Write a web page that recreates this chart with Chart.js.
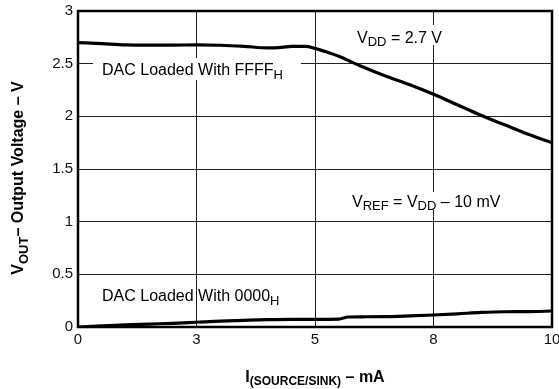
<!DOCTYPE html>
<html><head><meta charset="utf-8">
<script src="https://cdn.jsdelivr.net/npm/chart.js@4/dist/chart.umd.min.js"></script>
<style>html,body{margin:0;padding:0;background:#fff}canvas{display:block}</style>
</head><body>
<canvas id="c" width="559" height="389"></canvas>
<script>
// ---- data ----
const currentFFFF = [0, 0.5, 1, 1.5, 2, 2.5, 3, 3.5, 4, 4.3, 4.5, 4.8, 5, 5.25, 5.5, 6, 6.5, 7, 7.5, 8, 8.5, 9, 9.5, 10];
const voutFFFF    = [2.70, 2.69, 2.678, 2.676, 2.676, 2.678, 2.675, 2.665, 2.65, 2.655, 2.665, 2.665, 2.645, 2.61, 2.57, 2.47, 2.38, 2.30, 2.21, 2.11, 2.01, 1.92, 1.83, 1.75];
const current0000 = [0, 0.5, 1, 1.5, 2, 2.5, 3, 3.5, 4, 4.5, 5, 5.5, 5.7, 6, 6.5, 7, 7.5, 8, 8.5, 9, 9.5, 10];
const vout0000    = [0, 0.01, 0.02, 0.028, 0.035, 0.045, 0.055, 0.063, 0.07, 0.073, 0.073, 0.075, 0.095, 0.097, 0.098, 0.105, 0.114, 0.125, 0.138, 0.145, 0.146, 0.152];
const xTickValues = [0, 2.5, 5, 7.5, 10];
const xTickLabels = ['0', '3', '5', '8', '10'];
const yTickValues = [0, 0.5, 1, 1.5, 2, 2.5, 3];
const yTickLabels = ['0', '0.5', '1', '1.5', '2', '2.5', '3'];

const FONT = '"Liberation Sans", Arial, sans-serif';

function toXY(xs, ys) { return xs.map((x, i) => ({x: x, y: ys[i]})); }

function richWidth(ctx, parts, mainF, subF) {
  let w = 0;
  parts.forEach(p => { ctx.font = p.sub ? subF : mainF; w += ctx.measureText(p.t).width; });
  return w;
}
function drawRich(ctx, parts, x, y, mainF, subF, subDy) {
  ctx.textBaseline = 'alphabetic';
  ctx.textAlign = 'left';
  parts.forEach(p => {
    ctx.font = p.sub ? subF : mainF;
    ctx.fillText(p.t, x, y + (p.sub ? subDy : 0));
    x += ctx.measureText(p.t).width;
  });
}

const deco = {
  id: 'deco',
  beforeDatasetsDraw(chart) {
    const ctx = chart.ctx;
    ctx.save();
    ctx.fillStyle = '#fff';
    // white backgrounds behind labels that hide gridlines
    ctx.fillRect(93, 58, 208, 22);   // DAC Loaded With FFFFH
    ctx.fillRect(354, 25, 92, 20);   // VDD = 2.7 V
    ctx.fillRect(349, 192, 156, 18); // VREF = VDD - 10 mV
    ctx.restore();
  },
  afterDatasetsDraw(chart) {
    const ctx = chart.ctx, a = chart.chartArea;
    ctx.save();
    ctx.strokeStyle = '#000';
    ctx.lineWidth = 2.5;
    ctx.strokeRect(a.left, a.top, a.right - a.left, a.bottom - a.top);
    ctx.restore();
  },
  afterDraw(chart) {
    const ctx = chart.ctx;
    ctx.save();
    ctx.fillStyle = '#000';
    const mF = '16px ' + FONT, sF = '13px ' + FONT;
    drawRich(ctx, [{t: 'DAC Loaded With FFFF'}, {t: 'H', sub: true}], 102, 75, mF, sF, 4);
    drawRich(ctx, [{t: 'V'}, {t: 'DD', sub: true}, {t: ' = 2.7 V'}], 357, 43, mF, sF, 3);
    drawRich(ctx, [{t: 'V'}, {t: 'REF', sub: true}, {t: ' = V'}, {t: 'DD', sub: true}, {t: ' \u2013 10 mV'}], 352, 207, mF, sF, 3);
    drawRich(ctx, [{t: 'DAC Loaded With 0000'}, {t: 'H', sub: true}], 102, 301, mF, sF, 4);

    // x axis title
    const bF = 'bold 16px ' + FONT, bsF = 'bold 12px ' + FONT;
    const xParts = [{t: 'I'}, {t: '(SOURCE/SINK)', sub: true}, {t: ' \u2013 mA'}];
    const xw = richWidth(ctx, xParts, bF, bsF);
    drawRich(ctx, xParts, 315 - xw / 2, 381.5, bF, bsF, 3.5);

    // y axis title (rotated)
    const yParts = [{t: 'V'}, {t: 'OUT', sub: true}, {t: '\u2013 Output Voltage \u2013 V'}];
    const ymF = 'bold 16px ' + FONT, ysF = 'bold 13px ' + FONT;
    const yw = richWidth(ctx, yParts, ymF, ysF);
    ctx.translate(23.3, 178 + yw / 2);
    ctx.rotate(-Math.PI / 2);
    drawRich(ctx, yParts, 0, 0, ymF, ysF, 4.5);
    ctx.restore();
  }
};

new Chart(document.getElementById('c'), {
  type: 'line',
  data: {
    datasets: [
      {data: toXY(currentFFFF, voutFFFF), borderColor: '#000', borderWidth: 3.2, pointRadius: 0, cubicInterpolationMode: 'monotone', fill: false},
      {data: toXY(current0000, vout0000), borderColor: '#000', borderWidth: 3.2, pointRadius: 0, cubicInterpolationMode: 'monotone', fill: false}
    ]
  },
  options: {
    responsive: false,
    animation: false,
    events: [],
    layout: {padding: {left: 0, right: 7, top: 11, bottom: 0}},
    plugins: {legend: {display: false}, tooltip: {enabled: false}, title: {display: false}},
    scales: {
      x: {
        type: 'linear', min: 0, max: 10,
        afterBuildTicks: s => { s.ticks = xTickValues.map(v => ({value: v})); },
        afterFit: s => { s.height = 62; s.paddingLeft = 0; s.paddingRight = 0; },
        grid: {color: '#222', lineWidth: 1, drawTicks: false},
        border: {display: false},
        ticks: {
          padding: 4, color: '#111', font: {family: FONT, size: 15}, maxRotation: 0, autoSkip: false,
          callback: (v, i) => xTickLabels[i]
        }
      },
      y: {
        type: 'linear', min: 0, max: 3,
        afterBuildTicks: s => { s.ticks = yTickValues.map(v => ({value: v})); },
        afterFit: s => { s.width = 78; s.paddingTop = 0; s.paddingBottom = 0; },
        grid: {color: '#222', lineWidth: 1, drawTicks: false},
        border: {display: false},
        ticks: {
          padding: 5, color: '#111', font: {family: FONT, size: 15}, autoSkip: false,
          callback: (v, i) => yTickLabels[i]
        }
      }
    }
  },
  plugins: [deco]
});
</script>
</body></html>
